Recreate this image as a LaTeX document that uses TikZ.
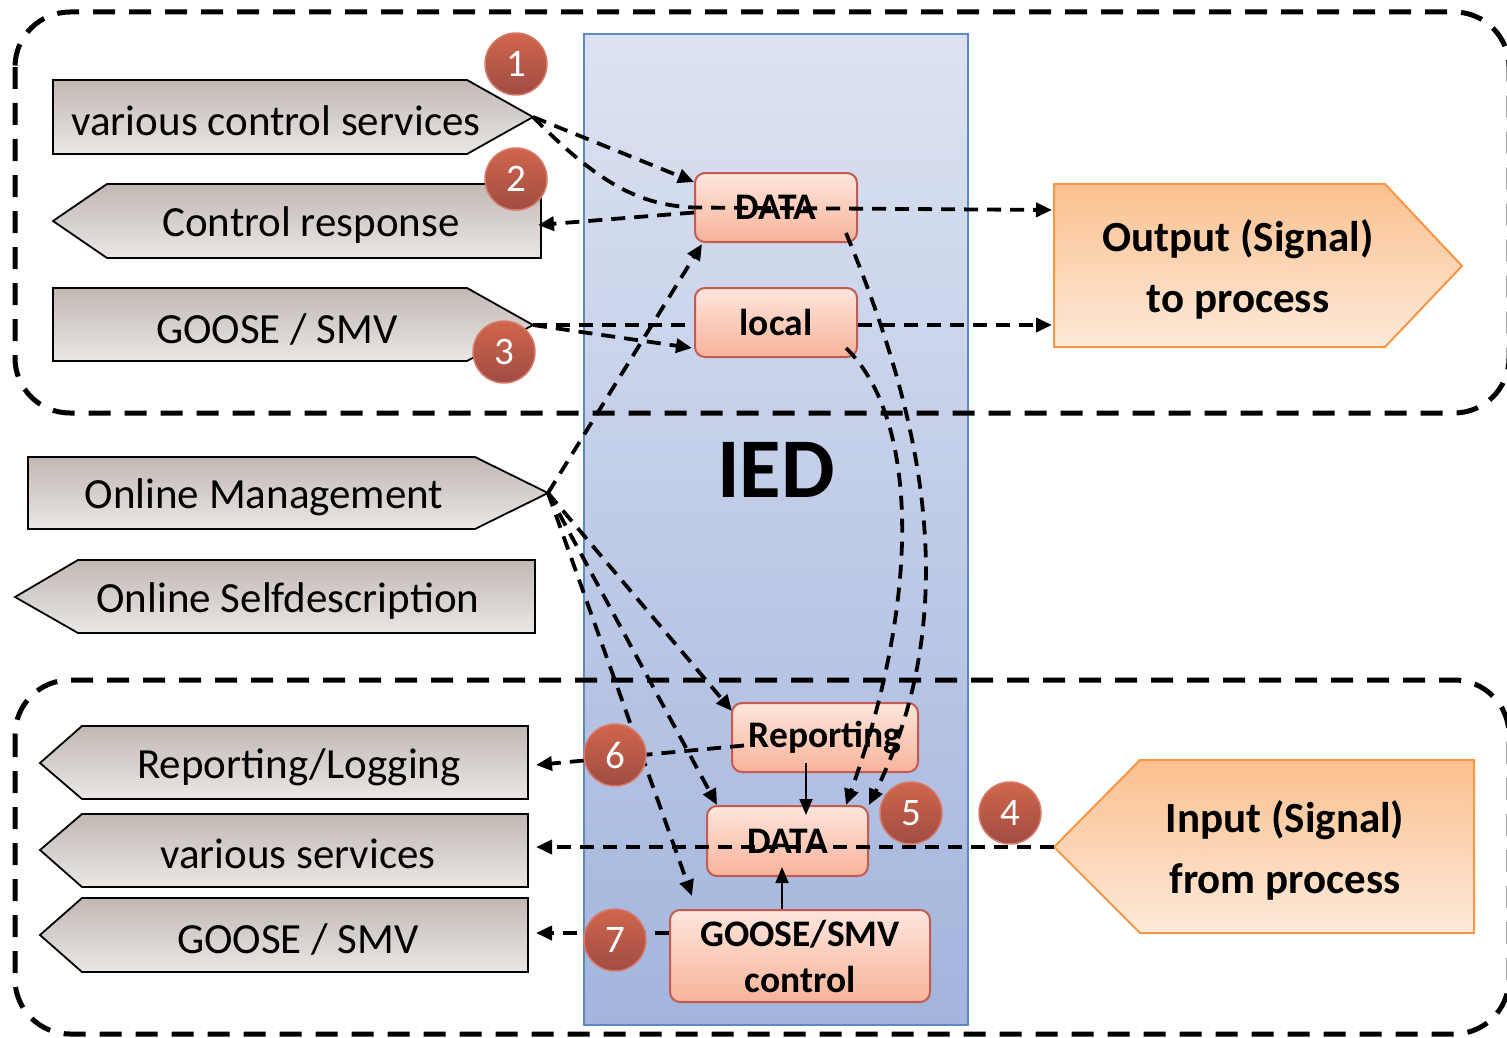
\documentclass[tikz,border=0pt]{standalone}
\usepackage{fontspec}
\setmainfont{Carlito}
\usetikzlibrary{arrows.meta,calc}
\definecolor{iedtop}{HTML}{DCE2F1}
\definecolor{iedbot}{HTML}{A3B5DD}
\definecolor{iedline}{HTML}{5B8AC6}
\definecolor{grtop}{HTML}{C1B8B3}
\definecolor{grbot}{HTML}{EAE7E5}
\definecolor{saltop}{HTML}{FDE6DC}
\definecolor{salbot}{HTML}{F7B39A}
\definecolor{salline}{HTML}{C55A53}
\definecolor{ortop}{HTML}{FAC08F}
\definecolor{orbot}{HTML}{FDEADA}
\definecolor{orline}{HTML}{F79646}
\definecolor{bdtop}{HTML}{D0664C}
\definecolor{bdbot}{HTML}{A04C43}
\definecolor{bdline}{HTML}{D77A6A}
\tikzset{
  frame/.style={draw=black, line width=5pt, dash pattern=on 22pt off 14pt, rounded corners=55pt},
  conn/.style={draw=black, line width=3.8pt, dash pattern=on 14pt off 9pt, -{Triangle[length=16pt,width=14pt]}},
  nconn/.style={draw=black, line width=3.8pt, dash pattern=on 14pt off 9pt},
  solidarr/.style={draw=black, line width=1.8pt, -{Triangle[length=16pt,width=13pt]}},
  grayshape/.style={draw=black, line width=1.8pt, top color=grtop, bottom color=grbot},
  graytext/.style={font=\fontsize{43}{50}\selectfont, inner sep=0pt, yshift=-4pt},
  orshape/.style={draw=orline, line width=2pt, top color=ortop, bottom color=orbot},
  ortext/.style={font=\bfseries\fontsize{43}{61}\selectfont, align=center, inner sep=0pt, yshift=-2pt},
  salmon/.style={draw=salline, line width=2pt, rounded corners=10pt, top color=saltop, bottom color=salbot,
    font=\bfseries\fontsize{37.5}{46}\selectfont, align=center, inner sep=0pt},
  badge/.style={circle, minimum size=62pt, inner sep=0pt, draw=bdline, line width=1.5pt,
    top color=bdtop, bottom color=bdbot, text=white, font=\fontsize{39}{39}\selectfont},
}
\begin{document}
\begin{tikzpicture}[x=1pt,y=-1pt]
\useasboundingbox (0,0) rectangle (1507,1038);
% IED body
\draw[draw=iedline, line width=2pt, top color=iedtop, bottom color=iedbot] (584,34) rectangle (968,1025);
% dashed frames
\draw[frame] (15,12) rectangle (1509,413);
\draw[frame] (15,680) rectangle (1509,1034);
\node[font=\bfseries\fontsize{85}{85}\selectfont, inner sep=0pt] (ied) at (776,470) {IED};
% gray signal shapes
\draw[grayshape] (53,80)--(467,80)--(533,117)--(467,154)--(53,154)--cycle;
\node[graytext] (vcs) at (276,117) {various control services};
\coordinate (vcstip) at (533,117);
\draw[grayshape] (53,221)--(107,184)--(541,184)--(541,258)--(107,258)--cycle;
\node[graytext] (cr) at (311,221) {Control response};
\coordinate (crin) at (538,225);
\draw[grayshape] (53,288)--(467,288)--(533,325)--(467,361)--(53,361)--cycle;
\node[graytext] (goa) at (277,325) {GOOSE / SMV};
\coordinate (gootip) at (533,325);
\draw[grayshape] (28,457)--(475,457)--(548,493)--(475,529)--(28,529)--cycle;
\node[graytext] (om) at (264,493) {Online Management};
\coordinate (omtip) at (548,493);
\draw[grayshape] (15,597)--(78,560)--(535,560)--(535,633)--(78,633)--cycle;
\node[graytext] (osd) at (288,597) {Online Selfdescription};
\draw[grayshape] (40,763)--(82,726)--(528,726)--(528,799)--(82,799)--cycle;
\node[graytext] (rl) at (299,763) {Reporting/Logging};
\coordinate (rlin) at (536,765);
\draw[grayshape] (40,850)--(82,814)--(528,814)--(528,887)--(82,887)--cycle;
\node[graytext] (vs) at (298,850) {various services};
\coordinate (vsin) at (536,847);
\draw[grayshape] (40,935)--(82,898)--(528,898)--(528,972)--(82,972)--cycle;
\node[graytext] (gob) at (298,935) {GOOSE / SMV};
\coordinate (gobin) at (536,933);
% orange shapes
\draw[orshape] (1054,184)--(1385,184)--(1462,266)--(1385,347)--(1054,347)--cycle;
\node[ortext] (out) at (1238,267) {Output (Signal)\\to process};
\coordinate (outA) at (1052,210);
\coordinate (outB) at (1052,325);
\draw[orshape] (1054,847)--(1140,760)--(1474,760)--(1474,933)--(1140,933)--cycle;
\node[ortext] (in) at (1285,848) {Input (Signal)\\from process};
\coordinate (intip) at (1054,847);
% salmon boxes
\node[salmon, minimum width=162pt, minimum height=69pt] (data1) at (776,207.5) {DATA};
\node[salmon, minimum width=162pt, minimum height=69pt] (local) at (776,322.5) {local};
% GOOSE -> local -> output (line behind local)
\draw[nconn] (gootip) -- (gootip -| local.west);
\draw[conn] (local.east |- outB) -- (outB);
\node[salmon, minimum width=186pt, minimum height=69pt] (rep) at (825,737.5) {Reporting};
\node[salmon, minimum width=161pt, minimum height=70pt] (data2) at (787.5,841) {DATA};
\node[salmon, minimum width=260pt, minimum height=92pt] (gsc) at (800,956) {GOOSE/SMV\\control};
% connectors
\draw[conn] (vcstip) -- ($(data1.north west)+(0,10)$);
\draw[conn] (vcstip) .. controls (600,185) and (640,205) .. (data1.west) -- (outA);
\draw[conn] ($(data1.west)+(0,5)$) -- (crin);
\draw[conn] (gootip) -- ($(local.south west)+(-2,-10)$);
\draw[conn] (omtip) -- ($(data1.south west)+(8,1)$);
\draw[conn] (omtip) -- ($(rep.north west)+(1,9)$);
\draw[conn] (omtip) -- ($(data2.north west)+(11,0)$);
\draw[conn] (omtip) -- ($(gsc.north west)+(23,-13)$);
\draw[conn] ($(data1.south east)+(-12,-10)$) .. controls (915,400) and (970,600) .. (data2.north east);
\draw[conn] ($(local.south east)+(-12,-10)$) .. controls (920,420) and (920,600) .. ($(data2.north east)+(-23,0)$);
\draw[solidarr] ($(rep.south)+(-19,-10)$) -- ($(data2.north)+(18.5,10)$);
\draw[solidarr] ($(gsc.north)+(-18,0)$) -- ($(data2.south)+(-5.5,-10)$);
\draw[conn] ($(rep.west)+(13,8)$) -- (rlin);
\draw[conn] (intip) -- (vsin);
\draw[conn] ($(gsc.west)+(0,-23)$) -- (gobin);
% badges
\node[badge] (b1) at (516,64) {1};
\node[badge] (b2) at (516,179) {2};
\node[badge] (b3) at (504,352) {3};
\node[badge] (b4) at (1010,813) {4};
\node[badge] (b5) at (911,813) {5};
\node[badge] (b6) at (615,755) {6};
\node[badge] (b7) at (615,940) {7};
\end{tikzpicture}
\end{document}
